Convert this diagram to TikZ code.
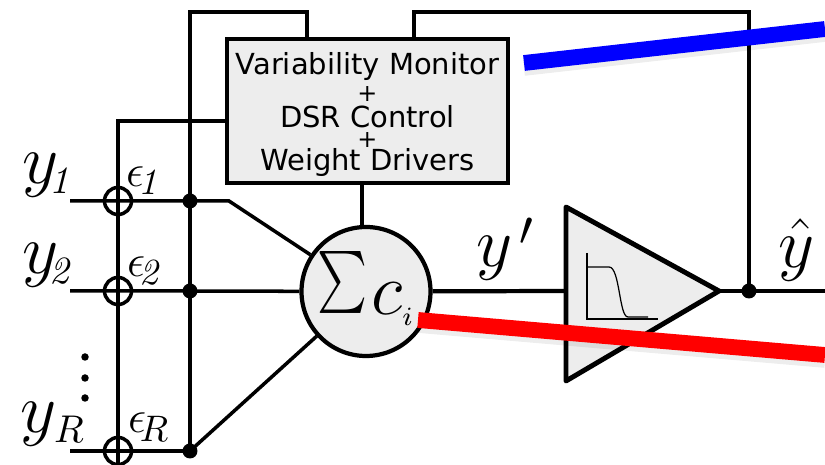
\RequirePackage{fix-cm}
\documentclass[tikz,border=0pt]{standalone}
\usepackage{amsmath}
\usepackage{graphicx}
\usepackage{fontspec}
\setmainfont{DejaVu Sans}
\usetikzlibrary{positioning}
\DeclareMathAlphabet{\mathlabel}{OT1}{cmr}{m}{it}
\DeclareMathSizes{20}{20}{11}{7}
\DeclareMathSizes{13}{13}{10.5}{7}
\DeclareMathSizes{21}{21}{7.5}{5}
\definecolor{blockgray}{HTML}{EDEDED}
\tikzset{
    wire/.style={line width=1pt},
    junction/.style={circle, fill=black, inner sep=0pt, minimum size=0.15cm},
    xorsym/.style={circle, draw, line width=1pt, inner sep=0pt, minimum size=0.27cm},
    vdot/.style={circle, fill=black, inner sep=0pt, minimum size=0.075cm},
    biglabel/.style={inner sep=0pt, font=\fontsize{20}{24}\selectfont},
    errlabel/.style={inner sep=0pt, font=\fontsize{13}{15}\selectfont},
    callout/.style={line width=4.5pt, preaction={draw=black, opacity=0.07, line width=4.5pt, transform canvas={yshift=-1.4pt}}}
}
\newcommand{\plusline}{{\fontsize{6.8}{6.7}\selectfont +}}
\newcommand{\sumlabel}{\rule[-4.6pt]{0pt}{0pt}\raisebox{4.6pt}{\scalebox{0.65}[0.85]{$\sum$}}\hspace{1pt}$c_i$}
\begin{document}
\begin{tikzpicture}
    \clip (0,0) rectangle (8.25,4.65);

    % Blocks
    \node [draw, line width=1.3pt, fill=blockgray, minimum width=2.81cm, minimum height=1.44cm, inner sep=0pt, align=center, font=\fontsize{8.25}{6.7}\selectfont] (monitor) at (3.675,3.54) {\rule{0pt}{8pt}Variability Monitor\\[1pt]\plusline\\[0.7pt]DSR Control\\[-1pt]\plusline\\[-0.2pt]Weight Drivers};
    \node [draw, circle, line width=1.2pt, fill=blockgray, minimum size=1.29cm, inner sep=0pt, font=\fontsize{21}{24}\selectfont] (sum) at (3.66,1.735) {\sumlabel};
    \coordinate (ampTop) at (5.66,2.58);
    \coordinate (ampBot) at (5.66,0.84);
    \coordinate (ampOut) at (7.19,1.74);
    \coordinate (ampIn) at (5.66,1.74);
    \draw [line width=1.4pt, fill=blockgray, line join=round] (ampTop) -- (ampOut) -- (ampBot) -- cycle;

    % Transfer curve
    \draw [line width=0.35pt] (5.87,2.12) -- (5.87,1.46) -- (6.58,1.46);
    \draw [line width=0.35pt] (5.87,1.98) -- (6.09,1.98) .. controls (6.20,1.98) and (6.19,1.48) .. (6.28,1.48) -- (6.48,1.48);

    % Inputs
    \coordinate (inA) at (0.70,2.64);
    \coordinate (inB) at (0.70,1.74);
    \coordinate (inR) at (0.70,0.14);
    \coordinate (bendA) at (2.29,2.64);
    \node [xorsym] (xorA) at (1.18,2.64) {};
    \node [xorsym] (xorB) at (1.18,1.74) {};
    \node [xorsym] (xorR) at (1.18,0.14) {};
    \node [junction] (dotA) at (1.90,2.64) {};
    \node [junction] (dotB) at (1.90,1.74) {};
    \node [junction] (dotR) at (1.90,0.14) {};
    \draw [wire] (inA) -- (dotA.center) -- (bendA) -- (sum);
    \draw [wire] (inB) -- (dotB.center) -- (sum);
    \draw [wire] (inR) -- (dotR.center) -- (sum);

    % Buses
    \coordinate (busLeft) at (1.18,3.44);
    \coordinate (busEnd) at (1.18,0);
    \coordinate (topLeft) at (1.90,4.53);
    \coordinate (topMid) at (3.07,4.53);
    \coordinate (topRight) at (4.14,4.53);
    \coordinate (fbCorner) at (7.49,4.53);
    \draw [wire] (monitor.west |- busLeft) -- (busLeft) -- (busEnd);
    \draw [wire] (dotR.center) -- (topLeft) -- (topMid) -- (monitor.north -| topMid);
    \draw [wire] ([xshift=-0.04cm]monitor.south -| sum.north) -- ([xshift=-0.04cm]sum.north);

    % Output
    \coordinate (outEnd) at (8.25,1.74);
    \node [junction] (dotOut) at (7.49,1.74) {};
    \draw [wire, line width=1.2pt] (sum) -- (ampIn);
    \draw [wire] (ampOut) -- (dotOut.center) -- (outEnd);
    \draw [wire] (dotOut.center) -- (fbCorner) -- (topRight) -- (monitor.north -| topRight);

    % Labels
    \node [biglabel] (labA) at (0.49,2.90) {$y_{\!\mathlabel{1}}$};
    \node [biglabel] (labB) at (0.49,2.00) {$y_{\!\mathlabel{2}}$};
    \node [biglabel] (labR) at (0.53,0.41) {$y_{R}$};
    \node [errlabel] (errA) at (1.45,2.84) {$\epsilon_{\!\mathlabel{1}}$};
    \node [errlabel] (errB) at (1.46,1.94) {$\epsilon_{\!\mathlabel{2}}$};
    \node [errlabel] (errR) at (1.49,0.38) {$\epsilon_{\!R}$};
    \node [biglabel] (labMid) at (5.05,2.16) {$y$\hspace{2pt}\raisebox{6pt}{\scalebox{0.7}{$\prime$}}};
    \node [biglabel] (labOut) at (7.97,2.15) {$\hat{y}$};

    % Dots
    \node [vdot] (vdA) at (0.85,1.08) {};
    \node [vdot] (vdB) at (0.85,0.87) {};
    \node [vdot] (vdC) at (0.85,0.67) {};

    % Thick lines
    \coordinate (blueA) at (5.24,4.02);
    \coordinate (blueB) at (8.25,4.36);
    \coordinate (redA) at (4.18,1.45);
    \coordinate (redB) at (8.25,1.10);
    \draw [callout, blue] (blueA) -- (blueB);
    \draw [callout, red] (redA) -- (redB);
\end{tikzpicture}
\end{document}
